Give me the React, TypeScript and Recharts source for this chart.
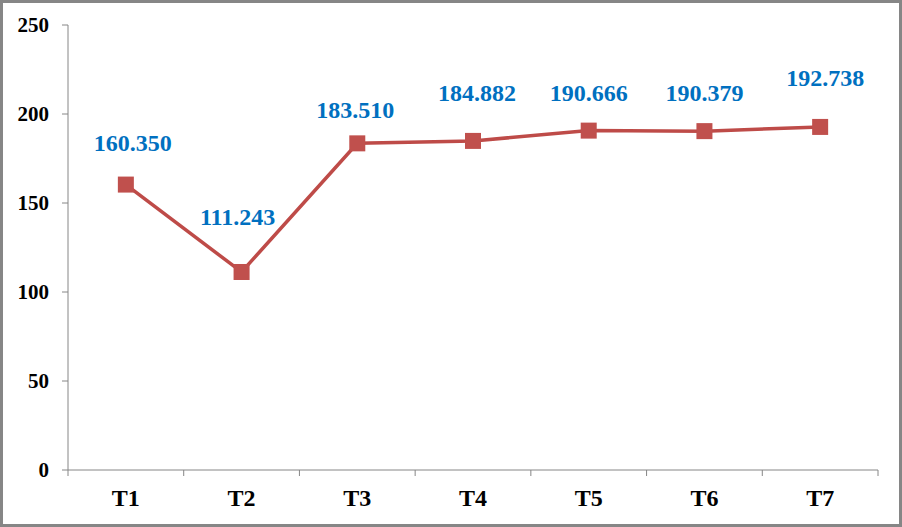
import React from 'react';
import { LineChart, Line, XAxis, YAxis, LabelList } from 'recharts';

const categories = ['T1', 'T2', 'T3', 'T4', 'T5', 'T6', 'T7'];
const values = [160.35, 111.243, 183.51, 184.882, 190.666, 190.379, 192.738];
const yTicks = [0, 50, 100, 150, 200, 250];

const data = categories.map((name, i) => ({ name, pos: i + 0.5, value: values[i] }));

// small nudges so the value labels sit where the original put them
const LABEL_DX = [7, -4, -2, 4, 0, 0, 5];
const LABEL_DY = [42, 55, 33, 48, 38, 38, 49];

const FONT = '"Liberation Serif", "Times New Roman", serif';
const AXIS = '#868686';

const xTicks: number[] = [];
for (let i = 0; i <= categories.length * 2; i++) xTicks.push(i / 2);

const XTick = (props: any) => {
  const { x, y, payload } = props;
  const v = payload.value;
  if (Number.isInteger(v)) {
    return <line x1={x} y1={y} x2={x} y2={y + 6} stroke={AXIS} strokeWidth={1} />;
  }
  const label = categories[Math.floor(v)];
  return (
    <text x={x} y={y + 36} textAnchor="middle" fontFamily={FONT} fontWeight="bold" fontSize={24} fill="#000">
      {label}
    </text>
  );
};

const Square = (props: any) => {
  const { cx, cy, index } = props;
  return <rect key={`dot-${index}`} x={cx - 8} y={cy - 8} width={16} height={16} fill="#C0504D" />;
};

const ValueLabel = (props: any) => {
  const { x, y, index, value } = props;
  return (
    <text
      x={x + LABEL_DX[index]}
      y={y - LABEL_DY[index] + 8}
      textAnchor="middle"
      fontFamily={FONT}
      fontWeight="bold"
      fontSize={24}
      fill="#0070C0"
    >
      {Number(value).toFixed(3)}
    </text>
  );
};

export default function App() {
  return (
    <div
      style={{
        position: 'absolute',
        left: 0,
        top: 0,
        width: 902,
        height: 527,
        boxSizing: 'border-box',
        border: `3px solid ${AXIS}`,
        background: '#fff',
      }}
    >
      <LineChart width={896} height={521} data={data} margin={{ top: 22, right: 21, bottom: 14, left: 0 }}>
        <XAxis
          dataKey="pos"
          type="number"
          domain={[0, categories.length]}
          ticks={xTicks}
          interval={0}
          tickLine={false}
          tickSize={0}
          tickMargin={0}
          tick={<XTick />}
          stroke={AXIS}
          height={40}
        />
        <YAxis
          domain={[0, 250]}
          ticks={yTicks}
          interval={0}
          width={65}
          tickSize={6}
          tickMargin={13}
          stroke={AXIS}
          tick={{ fill: '#000', fontFamily: FONT, fontWeight: 'bold', fontSize: 21 }}
        />
        <Line
          type="linear"
          dataKey="value"
          stroke="#BE4B48"
          strokeWidth={3.5}
          dot={<Square />}
          activeDot={false}
          isAnimationActive={false}
        >
          <LabelList dataKey="value" content={<ValueLabel />} />
        </Line>
      </LineChart>
    </div>
  );
}
